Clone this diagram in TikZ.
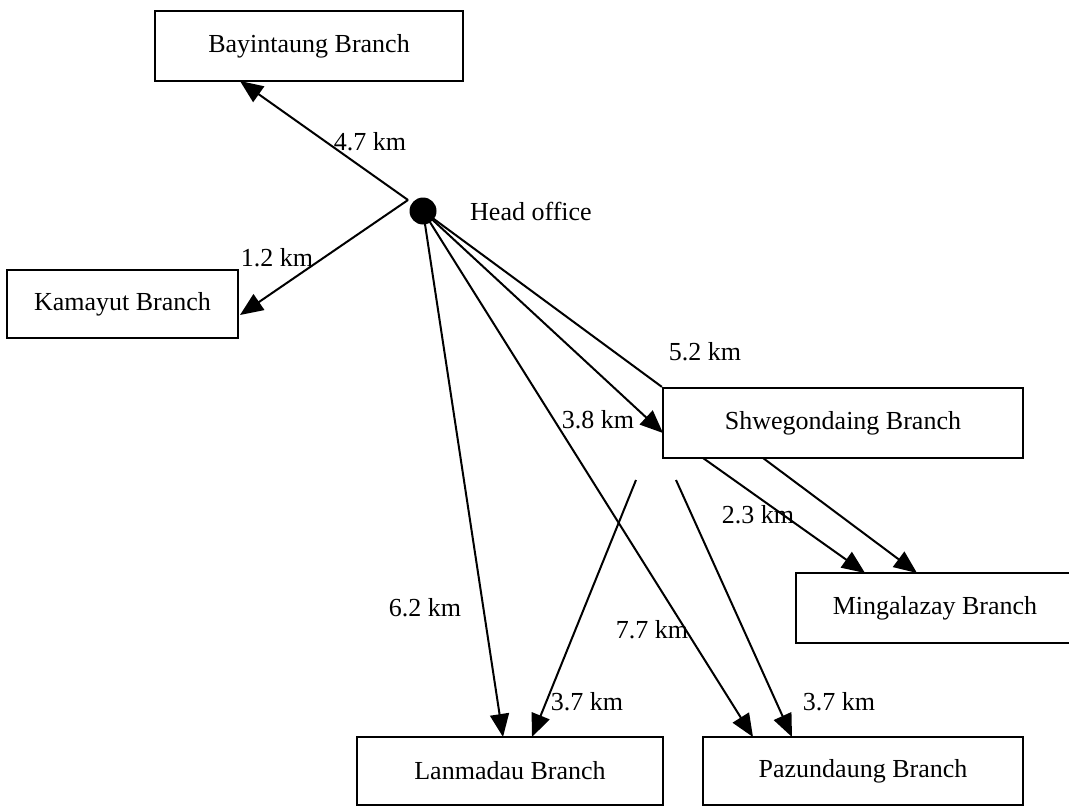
\documentclass[tikz,border=0pt]{standalone}
\usepackage{fontspec}
\setmainfont{Liberation Serif}
\usetikzlibrary{arrows.meta}
\begin{document}
\begin{tikzpicture}[x=1pt,y=-1pt,
  box/.style={draw,line width=2.2pt,minimum width=#1,inner sep=0pt,font=\fontsize{26}{30}\selectfont},
  lbl/.style={inner sep=0pt,font=\fontsize{26}{30}\selectfont},
  conn/.style={line width=2pt},
  arr/.style={conn,-{Triangle[length=23pt,width=19pt]}}]
\useasboundingbox (0,0) rectangle (1069,808);
% boxes
\node[box=308pt,minimum height=70pt] (bay) at (309,46) {Bayintaung Branch};
\node[box=231pt,minimum height=68pt] (kam) at (122.5,304) {Kamayut Branch};
\node[box=360pt,minimum height=70pt] (shw) at (843,423) {Shwegondaing Branch};
\node[box=278pt,minimum height=70pt] (min) at (935,608) {Mingalazay Branch};
\node[box=306pt,minimum height=68pt] (lan) at (510,771) {Lanmadau Branch};
\node[box=320pt,minimum height=68pt] (paz) at (863,771) {Pazundaung Branch};
% head office
\node[circle,fill=black,minimum size=27pt,inner sep=0pt] (head) at (423,211) {};
\node[lbl,anchor=west] (headlbl) at (470,211) {Head office};
% free ends
\coordinate (j) at (408,200);
\coordinate (bayin) at (240,81);
\coordinate (kamin) at (240,315);
\coordinate (shwin) at (663,433);
\coordinate (lanin1) at (503,737);
\coordinate (lanin2) at (532,737);
\coordinate (pazin1) at (753,737);
\coordinate (pazin2) at (792,737);
\coordinate (s1) at (636,480);
\coordinate (s2) at (676,480);
\coordinate (shwout1) at (703,458);
\coordinate (shwout2) at (763,458);
\coordinate (minin1) at (865,573);
\coordinate (minin2) at (917,573);
% connectors
\draw[arr] (j) -- (bayin);
\draw[arr] (j) -- (kamin);
\draw[conn] (head.center) -- (shw.north west);
\draw[arr] (head.center) -- (shwin);
\draw[arr] (head.center) -- (lanin1);
\draw[arr] (head.center) -- (pazin1);
\draw[arr] (s1) -- (lanin2);
\draw[arr] (s2) -- (pazin2);
\draw[arr] (shwout1) -- (minin1);
\draw[arr] (shwout2) -- (minin2);
% labels
\node[lbl] (l47) at (370,142) {4.7 km};
\node[lbl] (l12) at (277,258) {1.2 km};
\node[lbl] (l52) at (705,352) {5.2 km};
\node[lbl] (l38) at (598,420) {3.8 km};
\node[lbl] (l23) at (758,515) {2.3 km};
\node[lbl] (l62) at (425,608) {6.2 km};
\node[lbl] (l77) at (652,630) {7.7 km};
\node[lbl] (l37a) at (587,702) {3.7 km};
\node[lbl] (l37b) at (839,702) {3.7 km};
\end{tikzpicture}
\end{document}
